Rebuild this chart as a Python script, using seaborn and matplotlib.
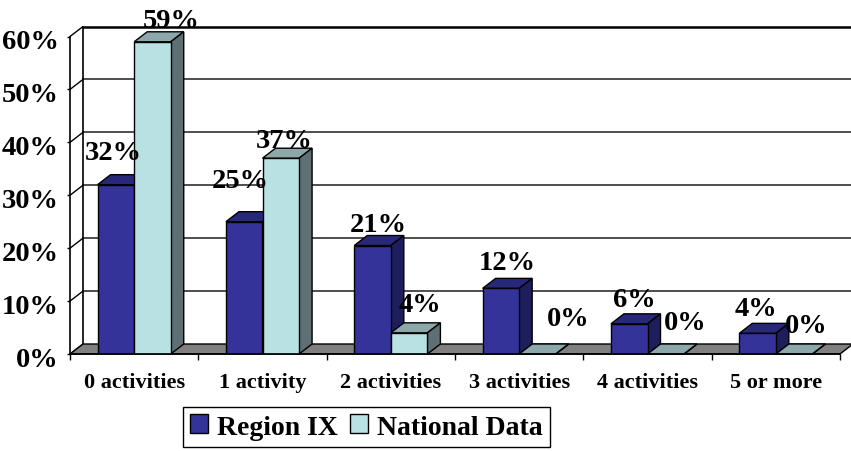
import pandas as pd
import matplotlib.pyplot as plt
import seaborn as sns
from matplotlib.ticker import FixedLocator, PercentFormatter
from matplotlib.transforms import ScaledTranslation

categories = ['0 activities', '1 activity', '2 activities', '3 activities', '4 activities', '5 or more']
region_ix = [32, 25, 20.5, 12.4, 5.7, 3.9]
national = [59, 37, 4, 0, 0, 0]
region_labels = ['32%', '25%', '21%', '12%', '6%', '4%']
national_labels = ['59%', '37%', '4%', '0%', '0%', '0%']
y_ticks = [0, 10, 20, 30, 40, 50, 60]

# label nudges in pixels, the labels were placed by hand in the original
region_nudge = [(-3, 26), (-4, 35), (6, 15), (6, 19), (5, 18), (-1.5, 18)]
national_nudge = [(19, 15), (3, 11), (11, 22), (31, 29), (19, 25), (12.5, 22)]

W, H = 851, 452
L, R, TOP, BOTTOM = 70, 840, 37.5, 355
DEPTH_X, DEPTH_Y = 13, 10

sns.set_style('white')
plt.rcParams['font.family'] = ['Liberation Serif', 'DejaVu Serif']
plt.rcParams['font.weight'] = 'bold'
plt.rcParams['text.color'] = 'black'
plt.rcParams['xtick.color'] = 'black'
plt.rcParams['ytick.color'] = 'black'

df = pd.DataFrame({'cat': categories * 2,
                   'val': region_ix + national,
                   'series': ['Region IX'] * 6 + ['National Data'] * 6})

fig = plt.figure(figsize=(W / 100, H / 100), dpi=100)
ax = fig.add_axes([L / W, 1 - BOTTOM / H, (R - L) / W, (BOTTOM - TOP) / H])
sns.barplot(data=df, x='cat', y='val', hue='series', ax=ax, width=0.57, gap=0, dodge=True,
            palette=['#333399', '#B9E0E3'], edgecolor='black', linewidth=1, saturation=1,
            legend=True)
ax.set_xlim(-0.5, 5.5)
ax.set_ylim(0, 60)
ax.set_xlabel('')
ax.set_ylabel('')

# depth of the fake 3d box in data units
dx = DEPTH_X * 6 / (R - L)
dy = DEPTH_Y * 60 / (BOTTOM - TOP)

# floor
ax.fill([-0.5, 5.5, 5.5 + dx, -0.5 + dx], [0, 0, dy, dy], color='#808080', ec='black', lw=1,
        zorder=1, clip_on=False)

# back wall grid
for t in y_ticks:
    c = 'black' if t == 60 else '#404040'
    lw = 1.8 if t == 60 else 1.3
    if t > 0:
        ax.plot([-0.5 + dx, 5.5 + dx], [t + dy, t + dy], color=c, lw=lw, zorder=0.5, clip_on=False)
    ax.plot([-0.5, -0.5 + dx], [t, t + dy], color='black', lw=1, zorder=0.6, clip_on=False)
ax.plot([-0.5 + dx, -0.5 + dx], [dy, 60 + dy], color='black', lw=1.2, zorder=0.6, clip_on=False)


def add_depth(bar, top_col, side_col, z):
    x0, w, h = bar.get_x(), bar.get_width(), bar.get_height()
    x1 = x0 + w
    ax.fill([x0, x1, x1 + dx, x0 + dx], [h, h, h + dy, h + dy], fc=top_col, ec='black', lw=1,
            zorder=z, clip_on=False)
    ax.fill([x1, x1 + dx, x1 + dx, x1], [0, dy, h + dy, h], fc=side_col, ec='black', lw=1,
            zorder=z, clip_on=False)
    bar.set_zorder(z + 0.1)


bars_a, bars_b = ax.containers[0], ax.containers[1]
for i in range(len(categories)):
    add_depth(bars_a[i], '#28287A', '#1E1E5C', 2 + i * 2)
    add_depth(bars_b[i], '#8CA8AB', '#5E7073', 3 + i * 2)

# value labels
for bars, labels, nudges in [(bars_a, region_labels, region_nudge), (bars_b, national_labels, national_nudge)]:
    for bar, lab, n in zip(bars, labels, nudges):
        ax.annotate(lab, (bar.get_x() + bar.get_width() / 2, bar.get_height()), xytext=n,
                    textcoords='offset pixels', ha='center', va='baseline', fontsize=20.5,
                    fontweight='bold', color='black', zorder=40, annotation_clip=False)

sns.despine(ax=ax, top=True, right=True)
for s in ['left', 'bottom']:
    ax.spines[s].set_color('black')
    ax.spines[s].set_linewidth(1.2)
    ax.spines[s].set_zorder(30)

ax.set_yticks(y_ticks)
ax.yaxis.set_major_formatter(PercentFormatter(decimals=0))
ax.tick_params(axis='y', length=2, width=1, pad=6, labelsize=20.5, left=True, color='black')
shift = ScaledTranslation(0, -1.5 / 72, fig.dpi_scale_trans)
for t in ax.get_yticklabels():
    t.set_fontweight('bold')
    t.set_transform(t.get_transform() + shift)

ax.xaxis.set_minor_locator(FixedLocator([i - 0.5 for i in range(7)]))
ax.tick_params(axis='x', which='minor', length=4, width=1, bottom=True, color='black')
ax.tick_params(axis='x', which='major', length=0, pad=13, labelsize=16)
for t in ax.get_xticklabels():
    t.set_fontweight('bold')

handles, labels = ax.get_legend_handles_labels()
ax.legend(handles, labels, loc='center', bbox_to_anchor=(366.5 / W, 1 - 428 / H),
          bbox_transform=fig.transFigure, ncol=2, frameon=True, fancybox=False, framealpha=1,
          edgecolor='black', handlelength=0.65, handleheight=0.68, handletextpad=0.32,
          columnspacing=0.43, borderpad=0.25, borderaxespad=0,
          prop={'weight': 'bold', 'size': 20})

plt.savefig('out.png', dpi=100)
plt.show()
